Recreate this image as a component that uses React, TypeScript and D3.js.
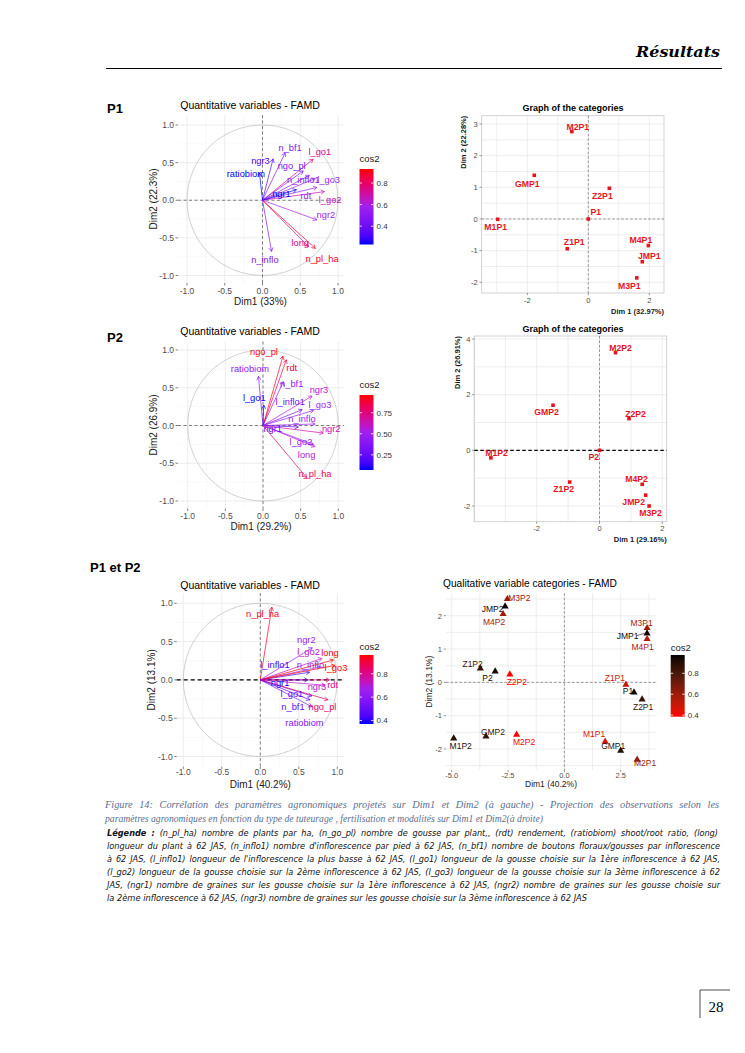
import React, { useLayoutEffect, useRef } from 'react';
import * as d3 from 'd3';

// ---------------- DATA ----------------
// P1 – quantitative variables (Dim1, Dim2 correlations)
const p1Vars = ["n_bf1", "ngr3", "ratiobiom", "l_go1", "ngo_pl", "n_inflo1", "l_go3", "rdt", "l_go2", "ngr1", "ngr2", "long", "n_pl_ha", "n_inflo"];
const p1Dim1 = [0.30, 0.14, -0.04, 0.67, 0.54, 0.62, 0.70, 0.72, 0.82, 0.45, 0.72, 0.61, 0.70, 0.12];
const p1Dim2 = [0.63, 0.55, 0.36, 0.545, 0.39, 0.33, 0.29, 0.17, 0.115, 0.14, -0.26, -0.615, -0.64, -0.68];
const p1LabDx = [5, -12.6, -13.6, 6.7, -11.6, -6, 13.3, -11, 5.7, -15, 9, -8.3, 6.7, -6.7];
const p1LabDy = [-4.6, 1.7, 0.7, -7.6, -5.3, 4.5, 1, 8, 8.6, 4, -5, -4, 10, 8.3];

// P1 – categories
const p1Cats = ["M2P1", "GMP1", "Z2P1", "P1", "M1P1", "Z1P1", "M4P1", "JMP1", "M3P1"];
const p1CatD1 = [-0.54, -1.77, 0.69, 0.0, -2.97, -0.69, 1.97, 1.77, 1.59];
const p1CatD2 = [2.76, 1.38, 0.97, 0.0, -0.01, -0.94, -0.84, -1.35, -1.86];
const p1CatDx = [6, -7, -7, 7.5, -2, 7, -7.5, 7, -7.5];
const p1CatDy = [-5, 9, 8, -7, 8, -6.5, -5.5, -6, 8];

// P2 – quantitative variables
const p2Vars = ["ngo_pl", "rdt", "ratiobiom", "n_bf1", "ngr3", "l_go1", "l_inflo1", "l_go3", "n_inflo", "ngr1", "ngr2", "l_go2", "long", "n_pl_ha"];
const p2Dim1 = [0.265, 0.31, -0.06, 0.27, 0.65, 0.01, 0.52, 0.67, 0.69, 0.47, 0.80, 0.67, 0.69, 0.58];
const p2Dim2 = [0.92, 0.87, 0.65, 0.58, 0.39, 0.27, 0.21, 0.20, 0.02, -0.02, -0.10, -0.25, -0.28, -0.69];
const p2LabDx = [-19, 5.4, -8.5, 8.4, 7, -9.5, -12, 6.5, -13, -25.7, 8, -12.5, -8.3, 8.3];
const p2LabDy = [-4.3, 8, -8, 1.6, -6, -7.8, -8, -5.4, -5, 2, -4, -3, 8.4, -4.3];

// P2 – categories
const p2Cats = ["M2P2", "GMP2", "Z2P2", "M1P2", "P2", "Z1P2", "M4P2", "JMP2", "M3P2"];
const p2CatD1 = [0.51, -1.48, 0.94, -3.46, 0.0, -0.95, 1.36, 1.47, 1.58];
const p2CatD2 = [3.51, 1.62, 1.14, -0.27, 0.0, -1.14, -1.22, -1.61, -2.0];
const p2CatDx = [5, -6.5, 6.5, 5.7, -5.7, -6, -5.7, -12, 1.4];
const p2CatDy = [-5, 7, -4.6, -4.5, 6.4, 7.3, -5.2, 7.2, 7.4];

// P1 et P2 – quantitative variables
const p3Vars = ["n_pl_ha", "l_inflo1", "ngr2", "l_go2", "long", "n_inflo", "l_go3", "ngr1", "ngr3", "rdt", "l_go1", "n_bf1", "ngo_pl", "ratiobiom"];
const p3Dim1 = [0.15, 0.64, 0.675, 0.80, 0.95, 0.78, 0.97, 0.62, 0.84, 0.90, 0.67, 0.645, 0.88, 0.67];
const p3Dim2 = [0.95, 0.10, 0.42, 0.28, 0.26, 0.17, 0.19, 0.0, -0.07, 0.0, -0.21, -0.26, -0.26, -0.35];
const p3LabDx = [-9.2, -34.6, -6, -13.4, -3.5, -10, 1, -28, -8, 3, -20, -17, -5.6, -7.4];
const p3LabDy = [6.2, -7.2, -7.7, -6.6, -7.3, -1.7, 2, 3, 1, 5, -2, 7, 7, 16];

// P1 et P2 – qualitative variable categories
const p3Cats = ["M3P2", "JMP2", "M4P2", "M3P1", "JMP1", "M4P1", "Z1P2", "P2", "Z2P2", "Z1P1", "P1", "Z2P1", "GMP2", "M1P2", "M2P2", "M1P1", "GMP1", "M2P1"];
const p3CatD1 = [-2.53, -2.63, -2.72, 3.67, 3.67, 3.67, -3.73, -3.07, -2.42, 2.73, 3.09, 3.45, -3.48, -4.91, -2.12, 1.81, 2.5, 3.23];
const p3CatD2 = [2.5, 2.28, 2.05, 1.63, 1.47, 1.3, 0.42, 0.33, 0.24, -0.07, -0.3, -0.51, -1.62, -1.68, -1.57, -1.78, -2.05, -2.32];
const p3CatCos2 = [0.6, 0.95, 0.6, 0.58, 0.95, 0.55, 0.85, 0.95, 0.4, 0.5, 0.95, 0.85, 0.85, 0.9, 0.4, 0.45, 0.9, 0.62];
const p3CatDx = [12, -12.6, -9, -5.5, -19.4, -4.5, -7.7, -7.7, 7, -11, -6, 1, 7, 7, 7.5, -11, -7.5, 8];
const p3CatDy = [-1, 2.5, 7.6, -5, 2.3, 8.3, -4.4, 6.6, 8, -6.7, -1, 8, -4.5, 7.5, 7.7, -7.7, -5, 3.3];

const captionLines = [
  "Figure 14: Corrélation des paramètres agronomiques projetés sur Dim1 et Dim2 (à gauche) - Projection des observations selon les",
  "paramètres agronomiques en fonction du type de tuteurage , fertilisation et modalités sur Dim1 et Dim2(à droite)",
];
const legendLines = [
  "(n_pl_ha) nombre de plants par ha, (n_go_pl) nombre de gousse par plant,, (rdt) rendement, (ratiobiom) shoot/root ratio, (long)",
  "longueur du plant à 62 JAS, (n_inflo1) nombre d'inflorescence par pied à 62 JAS, (n_bf1) nombre de boutons floraux/gousses par inflorescence",
  "à 62 JAS, (l_inflo1) longueur de l'inflorescence la plus basse à 62 JAS, (l_go1) longueur de la gousse choisie sur la 1ère inflorescence à 62 JAS,",
  "(l_go2) longueur de la gousse choisie sur la 2ème inflorescence à 62 JAS, (l_go3) longueur de la gousse choisie sur la 3ème inflorescence à 62",
  "JAS, (ngr1) nombre de graines sur les gousse choisie sur la 1ère inflorescence à 62 JAS, (ngr2) nombre de graines sur les gousse choisie sur",
  "la 2ème inflorescence à 62 JAS, (ngr3) nombre de graines sur les gousse choisie sur la 3ème inflorescence à 62 JAS",
];

// ---------------- HELPERS ----------------
const FONT = "'Liberation Sans', Arial, Helvetica, sans-serif";
type Anchor = [number, number, number, number];
const mk = (a: Anchor) => d3.scaleLinear().domain([a[0], a[2]]).range([a[1], a[3]]);

// text line justified to a target width through word-spacing (like the justified paragraph)
function Justified({ x, y, width, children }: any) {
  const ref = useRef<SVGTextElement>(null);
  useLayoutEffect(() => {
    const el = ref.current;
    if (!el) return;
    el.setAttribute('word-spacing', '0');
    el.removeAttribute('textLength');
    const w = el.getComputedTextLength();
    const spaces = (el.textContent || '').split(' ').length - 1;
    if (spaces > 0 && w < width) el.setAttribute('word-spacing', String((width - w) / spaces));
    else if (w > width) { el.setAttribute('textLength', String(width)); el.setAttribute('lengthAdjust', 'spacingAndGlyphs'); }
  }, [width]);
  return <text ref={ref} x={x} y={y}>{children}</text>;
}

// plain line that is adjusted only if it is far from its width
function Fitted({ x, y, width, children }: any) {
  const ref = useRef<SVGTextElement>(null);
  useLayoutEffect(() => {
    const el = ref.current;
    if (!el) return;
    el.removeAttribute('textLength');
    const w = el.getComputedTextLength();
    if (Math.abs(w - width) > 4) { el.setAttribute('textLength', String(width)); el.setAttribute('lengthAdjust', 'spacingAndGlyphs'); }
  }, [width]);
  return <text ref={ref} x={x} y={y}>{children}</text>;
}

function Legend({ id, x, y0, y1, lo, hi, ticks, fmt, colors, titleY }: any) {
  const ly = d3.scaleLinear().domain([lo, hi]).range([y1, y0]);
  const col = d3.scaleLinear<string>().domain(colors.length === 3 ? [lo, (lo + hi) / 2, hi] : [lo, hi]).range(colors).interpolate(d3.interpolateLab);
  const stops = d3.range(0, 11).map((i) => i / 10);
  return (
    <g>
      <defs>
        <linearGradient id={id} x1="0" y1="1" x2="0" y2="0">
          {stops.map((s) => <stop key={s} offset={s} stopColor={col(lo + s * (hi - lo))} />)}
        </linearGradient>
      </defs>
      <text x={x} y={titleY} fontSize={9.5} fill="#1a1a1a">cos2</text>
      <rect x={x} y={y0} width={14} height={y1 - y0} fill={`url(#${id})`} />
      {ticks.map((t: number) => (
        <g key={t}>
          <line x1={x} x2={x + 2.5} y1={ly(t)} y2={ly(t)} stroke="#fff" strokeWidth={0.8} />
          <line x1={x + 11.5} x2={x + 14} y1={ly(t)} y2={ly(t)} stroke="#fff" strokeWidth={0.8} />
          <text x={x + 17} y={ly(t) + 3} fontSize={8} fill="#333">{fmt(t)}</text>
        </g>
      ))}
    </g>
  );
}

function CorrPanel({ vars, d1, d2, ldx, ldy, L }: any) {
  const x = mk(L.xa), y = mk(L.ya);
  const [px0, px1, py0, py1] = L.panel;
  const col = d3.scaleLinear<string>().domain([L.lo, (L.lo + L.hi) / 2, L.hi]).range(["#0000FF", "#A020F0", "#FF0000"]).interpolate(d3.interpolateLab).clamp(true);
  const major = [-1, -0.5, 0, 0.5, 1];
  const minor = [-0.75, -0.25, 0.25, 0.75];
  const ox = x(0), oy = y(0);
  return (
    <g fontFamily={FONT}>
      {minor.map((v) => <line key={'vx' + v} x1={x(v)} x2={x(v)} y1={py0} y2={py1} stroke="#f3f3f3" strokeWidth={0.5} />)}
      {minor.map((v) => <line key={'vy' + v} y1={y(v)} y2={y(v)} x1={px0} x2={px1} stroke="#f3f3f3" strokeWidth={0.5} />)}
      {major.map((v) => <line key={'mx' + v} x1={x(v)} x2={x(v)} y1={py0} y2={py1} stroke="#e8e8e8" strokeWidth={0.8} />)}
      {major.map((v) => <line key={'my' + v} y1={y(v)} y2={y(v)} x1={px0} x2={px1} stroke="#e8e8e8" strokeWidth={0.8} />)}
      <ellipse cx={ox} cy={oy} rx={x(1) - ox} ry={oy - y(1)} fill="none" stroke="#b3b3b3" strokeWidth={0.6} />
      <line x1={ox} x2={ox} y1={py0} y2={py1} stroke="#333" strokeWidth={0.6} strokeDasharray="3,2.5" />
      <line x1={px0} x2={px1} y1={oy} y2={oy} stroke={L.hzeroBold ? '#000' : '#333'} strokeWidth={L.hzeroBold ? 1.1 : 0.6} strokeDasharray={L.hzeroBold ? '4,3' : '3,2.5'} />
      {vars.map((v: string, i: number) => {
        const tx = x(d1[i]), ty = y(d2[i]);
        const c = col(d1[i] * d1[i] + d2[i] * d2[i]);
        const a = Math.atan2(ty - oy, tx - ox);
        const h = 4.2;
        const p1 = [tx - h * Math.cos(a - Math.PI / 6), ty - h * Math.sin(a - Math.PI / 6)];
        const p2 = [tx - h * Math.cos(a + Math.PI / 6), ty - h * Math.sin(a + Math.PI / 6)];
        return (
          <g key={v}>
            <line x1={ox} y1={oy} x2={tx} y2={ty} stroke={c} strokeWidth={0.7} />
            <polyline points={`${p1[0]},${p1[1]} ${tx},${ty} ${p2[0]},${p2[1]}`} fill="none" stroke={c} strokeWidth={0.7} />
          </g>
        );
      })}
      {vars.map((v: string, i: number) => {
        const c = col(d1[i] * d1[i] + d2[i] * d2[i]);
        return <text key={'t' + v} x={x(d1[i]) + ldx[i]} y={y(d2[i]) + ldy[i]} dy="0.35em" textAnchor="middle" fontSize={9.3} fill={c}>{v}</text>;
      })}
      {major.map((v) => (
        <g key={'tk' + v}>
          <line x1={x(v)} x2={x(v)} y1={py1} y2={py1 + 2.5} stroke="#333" strokeWidth={0.6} />
          <text x={x(v)} y={py1 + L.tickOff} textAnchor="middle" fontSize={8.5} fill="#4d4d4d">{v.toFixed(1)}</text>
          <line x1={px0 - 2.5} x2={px0} y1={y(v)} y2={y(v)} stroke="#333" strokeWidth={0.6} />
          <text x={px0 - 4} y={y(v) + 3} textAnchor="end" fontSize={8.5} fill="#4d4d4d">{v.toFixed(1)}</text>
        </g>
      ))}
      <text x={L.titleX} y={L.titleY} textAnchor="middle" fontSize={10.5} fill="#000">Quantitative variables - FAMD</text>
      <text x={(px0 + px1) / 2} y={L.xlabY} textAnchor="middle" fontSize={10} fill="#1a1a1a">{L.xlab}</text>
      <text transform={`translate(${L.ylabX},${(py0 + py1) / 2}) rotate(-90)`} textAnchor="middle" fontSize={10} fill="#1a1a1a">{L.ylab}</text>
      <Legend id={L.id} x={L.leg.x} y0={L.leg.y0} y1={L.leg.y1} lo={L.lo} hi={L.hi} ticks={L.leg.ticks} fmt={L.leg.fmt} colors={["#0000FF", "#A020F0", "#FF0000"]} titleY={L.leg.titleY} />
    </g>
  );
}

function CatPanel({ names, d1, d2, ldx, ldy, cos2, L }: any) {
  const x = mk(L.xa), y = mk(L.ya);
  const [px0, px1, py0, py1] = L.panel;
  const inX = (v: number) => x(v) >= px0 - 0.5 && x(v) <= px1 + 0.5;
  const inY = (v: number) => y(v) <= py1 + 0.5 && y(v) >= py0 - 0.5;
  const col = L.red ? d3.scaleLinear<string>().domain([L.lo, L.hi]).range(["#FF0000", "#000000"]).interpolate(d3.interpolateLab).clamp(true) : null;
  const tri = d3.symbol().type(d3.symbolTriangle).size(22)();
  return (
    <g fontFamily={FONT}>
      {L.xGrid.filter(inX).map((v: number) => <line key={'gx' + v} x1={x(v)} x2={x(v)} y1={py0} y2={py1} stroke="#e6e6e6" strokeWidth={0.7} />)}
      {L.yGrid.filter(inY).map((v: number) => <line key={'gy' + v} y1={y(v)} y2={y(v)} x1={px0} x2={px1} stroke="#e6e6e6" strokeWidth={0.7} />)}
      {L.border && <rect x={px0} y={py0} width={px1 - px0} height={py1 - py0} fill="none" stroke="#c8c8c8" strokeWidth={0.8} />}
      <line x1={x(0)} x2={x(0)} y1={py0} y2={py1} stroke="#555" strokeWidth={0.6} strokeDasharray="2.5,2" />
      <line x1={px0} x2={px1} y1={y(0)} y2={y(0)} stroke={L.hzeroBold ? '#000' : '#555'} strokeWidth={L.hzeroBold ? 1.1 : 0.6} strokeDasharray={L.hzeroBold ? '3.5,2.5' : '2.5,2'} />
      {names.map((n: string, i: number) => {
        const c = col ? col(cos2[i]) : '#E8141C';
        const cx = x(d1[i]), cy = y(d2[i]);
        return (
          <g key={n}>
            {L.shape === 'tri'
              ? <path d={tri as string} transform={`translate(${cx},${cy})`} fill={c} />
              : <rect x={cx - 1.8} y={cy - 1.8} width={3.6} height={3.6} fill={c} />}
            {L.leaders && L.leaders.includes(n) && <line x1={cx + ldx[i] + 9} x2={cx - 2.5} y1={cy + ldy[i]} y2={cy} stroke={c} strokeWidth={0.6} />}
            <text x={cx + ldx[i]} y={cy + ldy[i]} dy="0.35em" textAnchor="middle" fontSize={L.labSize} fontWeight={L.labBold ? 'bold' : 'normal'} fill={c}>{n}</text>
          </g>
        );
      })}
      {L.xTicks.map((v: number) => (
        <g key={'xt' + v}>
          <line x1={x(v)} x2={x(v)} y1={py1} y2={py1 + 2.2} stroke="#555" strokeWidth={0.6} />
          <text x={x(v)} y={py1 + L.tickOff} textAnchor="middle" fontSize={L.tickSize} fill="#4d4d4d">{L.xFmt(v)}</text>
        </g>
      ))}
      {L.yTicks.map((v: number) => (
        <g key={'yt' + v}>
          <line x1={px0 - 2.2} x2={px0} y1={y(v)} y2={y(v)} stroke="#555" strokeWidth={0.6} />
          <text x={px0 - 4} y={y(v) + 2.8} textAnchor="end" fontSize={L.tickSize} fill="#4d4d4d">{v}</text>
        </g>
      ))}
      <text x={L.titleX} y={L.titleY} textAnchor={L.titleAnchor} fontSize={L.titleSize} fontWeight={L.titleBold ? 'bold' : 'normal'} fill="#000">{L.title}</text>
      <text x={L.xlabX} y={L.xlabY} textAnchor={L.xlabAnchor} fontSize={L.axSize} fontWeight={L.axBold ? 'bold' : 'normal'} fill="#1a1a1a">{L.xlab}</text>
      <text transform={`translate(${L.ylabX},${L.ylabY}) rotate(-90)`} textAnchor={L.ylabAnchor} fontSize={L.axSize} fontWeight={L.axBold ? 'bold' : 'normal'} fill="#1a1a1a">{L.ylab}</text>
      {L.red && <Legend id="lg_p3r" x={L.leg.x} y0={L.leg.y0} y1={L.leg.y1} lo={L.lo} hi={L.hi} ticks={[0.4, 0.6, 0.8]} fmt={(t: number) => t.toFixed(1)} colors={["#FF0000", "#000000"]} titleY={L.leg.titleY} />}
    </g>
  );
}

// ---------------- LAYOUTS ----------------
const f1 = (t: number) => t.toFixed(1);
const f2 = (t: number) => t.toFixed(2);

const L1 = { id: 'lg1', xa: [-1, 187, 1, 338], ya: [1, 125, -1, 275.5], panel: [178, 343, 115, 283], tickOff: 10.5, lo: 0.23, hi: 0.93, titleX: 250, titleY: 109, xlab: 'Dim1 (33%)', xlabY: 305, ylab: 'Dim2 (22.3%)', ylabX: 157, hzeroBold: false, leg: { x: 359.5, y0: 169, y1: 244.5, titleY: 162, ticks: [0.4, 0.6, 0.8], fmt: f1 } };
const L2 = { id: 'lg2', xa: [-1, 187.7, 1, 338.3], ya: [1, 350, -1, 501], panel: [178, 344, 341.5, 508.5], tickOff: 10.2, lo: 0.07, hi: 0.96, titleX: 250, titleY: 335, xlab: 'Dim1 (29.2%)', xlabY: 530, ylab: 'Dim2 (26.9%)', ylabX: 157, hzeroBold: false, leg: { x: 359.5, y0: 395, y1: 470, titleY: 388, ticks: [0.25, 0.5, 0.75], fmt: f2 } };
const L3 = { id: 'lg3', xa: [-1, 183.3, 1, 337.3], ya: [1, 603.3, -1, 756.5], panel: [176.7, 344, 593, 766.7], tickOff: 8.5, lo: 0.37, hi: 0.96, titleX: 250, titleY: 588.5, xlab: 'Dim1 (40.2%)', xlabY: 787.5, ylab: 'Dim2 (13.1%)', ylabX: 155, hzeroBold: true, leg: { x: 359.5, y0: 655, y1: 724, titleY: 650, ticks: [0.4, 0.6, 0.8], fmt: f1 } };

const C1 = { xa: [-2, 527.3, 2, 649.3], ya: [3, 124, -2, 282.3], panel: [481.7, 664, 115.7, 293], tickOff: 9.5, xGrid: [-3, -2, -1, 0, 1, 2], yGrid: d3.range(-2, 3.01, 0.5), xTicks: [-2, 0, 2], yTicks: [3, 2, 1, 0, -1, -2], xFmt: (v: number) => String(v), tickSize: 7.5, border: true, hzeroBold: false, shape: 'sq', labSize: 8.7, labBold: true, title: 'Graph of the categories', titleX: 573, titleY: 110.5, titleAnchor: 'middle', titleSize: 9, titleBold: true, xlab: 'Dim 1 (32.97%)', xlabX: 664, xlabY: 314, xlabAnchor: 'end', ylab: 'Dim 2 (22.28%)', ylabX: 466, ylabY: 115.7, ylabAnchor: 'end', axSize: 7.5, axBold: true };
const C2 = { xa: [-2, 536.7, 2, 662.3], ya: [4, 339, -2, 506], panel: [474.3, 666.7, 336, 521.7], tickOff: 9.5, xGrid: [-4, -3, -2, -1, 0, 1, 2], yGrid: [-2, -1, 0, 1, 2, 3, 4], xTicks: [-2, 0, 2], yTicks: [4, 2, 0, -2], xFmt: (v: number) => String(v), tickSize: 7.5, border: true, hzeroBold: true, shape: 'sq', labSize: 8.7, labBold: true, title: 'Graph of the categories', titleX: 573, titleY: 332, titleAnchor: 'middle', titleSize: 9, titleBold: true, xlab: 'Dim 1 (29.16%)', xlabX: 666.7, xlabY: 541.5, xlabAnchor: 'end', ylab: 'Dim 2 (26.91%)', ylabX: 459.5, ylabY: 336, ylabAnchor: 'end', axSize: 7.5, axBold: true };
const C3 = { xa: [-5, 451.7, 2.5, 620.7], ya: [2, 615.7, -2, 749], panel: [446, 656.7, 593.3, 770], tickOff: 7.5, xGrid: [-5, -3.75, -2.5, -1.25, 0, 1.25, 2.5, 3.75], yGrid: d3.range(-2.5, 2.51, 0.5), xTicks: [-5, -2.5, 0, 2.5], yTicks: [2, 1, 0, -1, -2], xFmt: (v: number) => v.toFixed(1), tickSize: 7.5, border: false, hzeroBold: false, shape: 'tri', labSize: 8.5, labBold: false, title: 'Qualitative variable categories - FAMD', titleX: 443, titleY: 587, titleAnchor: 'start', titleSize: 10.2, titleBold: false, xlab: 'Dim1 (40.2%)', xlabX: 551, xlabY: 787, xlabAnchor: 'middle', ylab: 'Dim2 (13.1%)', ylabX: 431.5, ylabY: 681.7, ylabAnchor: 'middle', axSize: 8.5, axBold: false, red: true, lo: 0.385, hi: 0.975, leaders: ['JMP1'], leg: { x: 670.7, y0: 655, y1: 716.7, titleY: 651 } };

// ---------------- APP ----------------
export default function App() {
  return (
    <svg width={745} height={1053} viewBox="0 0 745 1053" style={{ position: 'absolute', left: 0, top: 0, background: '#fff' }}>
      <rect width={745} height={1053} fill="#fff" />
      <text x={720} y={57} textAnchor="end" fontFamily="'DejaVu Serif', serif" fontStyle="italic" fontWeight="bold" fontSize={14} textLength={84} lengthAdjust="spacingAndGlyphs">Résultats</text>
      <line x1={106} x2={722} y1={68.5} y2={68.5} stroke="#000" strokeWidth={1} />

      <text x={107} y={113} fontFamily={FONT} fontWeight="bold" fontSize={13}>P1</text>
      <text x={107} y={342} fontFamily={FONT} fontWeight="bold" fontSize={13}>P2</text>
      <text x={90} y={572} fontFamily={FONT} fontWeight="bold" fontSize={13}>P1 et P2</text>

      <CorrPanel vars={p1Vars} d1={p1Dim1} d2={p1Dim2} ldx={p1LabDx} ldy={p1LabDy} L={L1} />
      <CatPanel names={p1Cats} d1={p1CatD1} d2={p1CatD2} ldx={p1CatDx} ldy={p1CatDy} L={C1} />
      <CorrPanel vars={p2Vars} d1={p2Dim1} d2={p2Dim2} ldx={p2LabDx} ldy={p2LabDy} L={L2} />
      <CatPanel names={p2Cats} d1={p2CatD1} d2={p2CatD2} ldx={p2CatDx} ldy={p2CatDy} L={C2} />
      <CorrPanel vars={p3Vars} d1={p3Dim1} d2={p3Dim2} ldx={p3LabDx} ldy={p3LabDy} L={L3} />
      <CatPanel names={p3Cats} d1={p3CatD1} d2={p3CatD2} ldx={p3CatDx} ldy={p3CatDy} cos2={p3CatCos2} L={C3} />

      <g fontFamily="'Liberation Serif', 'Times New Roman', serif" fontStyle="italic" fontSize={10.3} fill="#5a6f8f">
        <Justified x={105} y={808} width={614}>{captionLines[0]}</Justified>
        <Fitted x={105} y={822} width={438}>{captionLines[1]}</Fitted>
      </g>
      <g fontFamily="'Liberation Sans Narrow', 'DejaVu Sans Condensed', sans-serif" fontStyle="italic" fontSize={9.1} fill="#111">
        {legendLines.map((t, i) =>
          i < 5 ? (
            <Justified key={i} x={107} y={836 + i * 13} width={i === 0 ? 611 : 613}>
              {i === 0 && <tspan fontWeight="bold">Légende : </tspan>}{t}
            </Justified>
          ) : (
            <Fitted key={i} x={107} y={836 + i * 13} width={480}>{t}</Fitted>
          )
        )}
      </g>

      <line x1={700} x2={730} y1={990} y2={990} stroke="#000" strokeWidth={0.7} />
      <line x1={700} x2={700} y1={990} y2={1018} stroke="#000" strokeWidth={0.7} />
      <text x={716} y={1012} textAnchor="middle" fontFamily="'Liberation Serif', serif" fontSize={15}>28</text>
    </svg>
  );
}
